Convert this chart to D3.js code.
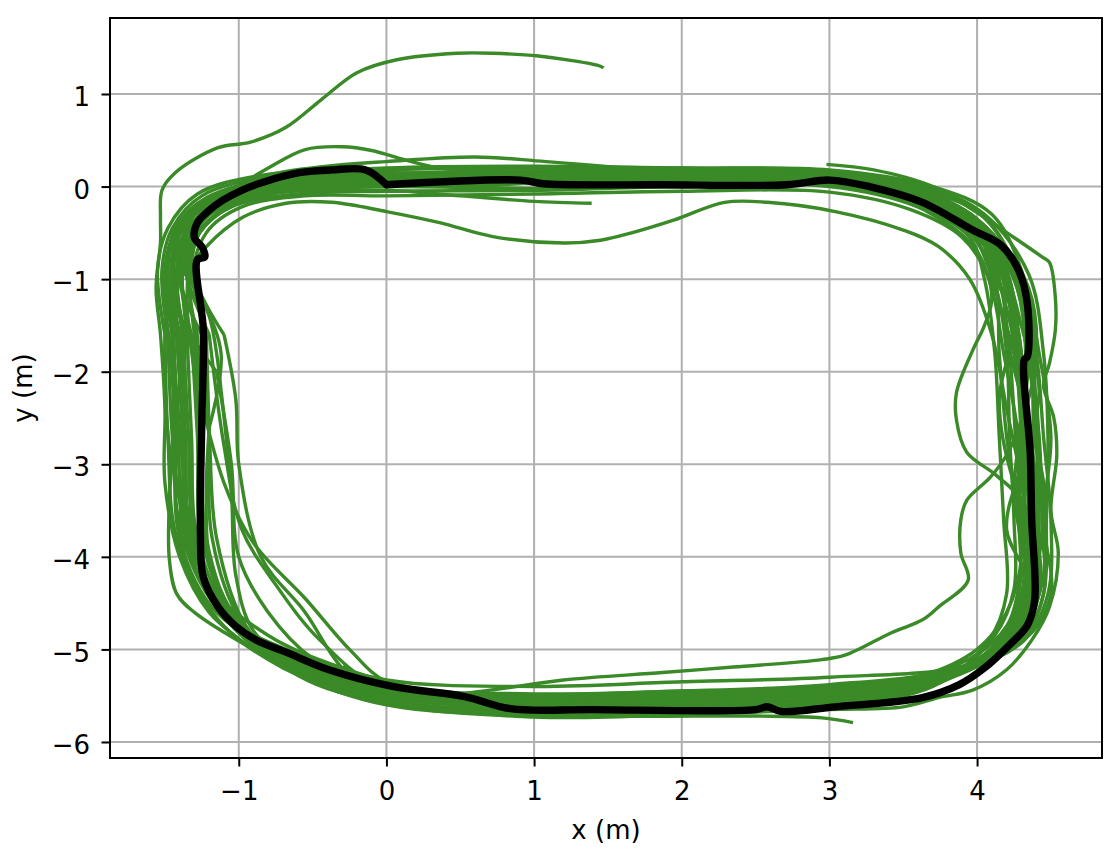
<!DOCTYPE html>
<html>
<head>
<meta charset="utf-8">
<script src="https://cdn.jsdelivr.net/npm/d3@7"></script>
<style>
  html, body { margin: 0; padding: 0; background: #fff; }
  svg { display: block; font-family: "DejaVu Sans", sans-serif; }
</style>
</head>
<body>
<div id="container"></div>
<script>
// axis limits and ticks (metres)
const xDomain = [-1.872, 4.846];
const yDomain = [-6.173, 1.821];
const xTicks  = [-1, 0, 1, 2, 3, 4];
const yTicks  = [-6, -5, -4, -3, -2, -1, 0, 1];

// reference path (black)
const refPath = [
  [0,0.02],[0.91,0.07],[1.06,0.03],[1.85,0.02],[2.71,0.02],[3.0,0.07],[3.27,0.0],
  [3.63,-0.17],[3.97,-0.47],[4.16,-0.63],[4.28,-0.9],[4.34,-1.26],[4.34,-1.84],
  [4.32,-1.87],[4.36,-2.88],[4.37,-3.6],[4.39,-4.47],[4.34,-4.74],[4.22,-4.95],
  [4.05,-5.2],[3.88,-5.38],[3.63,-5.52],[3.04,-5.62],[2.67,-5.67],[2.58,-5.62],
  [2.50,-5.65],[1.40,-5.65],[0.84,-5.64],[0.53,-5.51],[0.04,-5.4],[-0.39,-5.22],
  [-0.68,-5.03],[-0.88,-4.9],[-1.02,-4.75],[-1.14,-4.54],[-1.24,-4.22],[-1.26,-3.71],
  [-1.25,-2.52],[-1.24,-1.55],[-1.28,-0.79],[-1.23,-0.76],[-1.25,-0.65],[-1.30,-0.555],
  [-1.28,-0.39],[-1.21,-0.27],[-1.11,-0.15],[-0.98,-0.04],[-0.83,0.05],[-0.59,0.15],
  [-0.37,0.18],[-0.14,0.18],[0,0.02]
];

// estimated trajectories (green), one array per lap / run
const lap1 = [[-1.35,-1.6],[-1.38,-0.9],[-1.30,-0.45],[-1.12,-0.15],[-0.7,0.02],[0,0.08],[1,0.10],[2,0.10],[3,0.06],[3.6,-0.12],[4.0,-0.42],[4.20,-1.0],[4.30,-1.8],[4.32,-2.7],[4.35,-3.6],[4.33,-4.4],[4.20,-4.9],[3.8,-5.30],[3,-5.50],[2,-5.58],[1,-5.62],[0,-5.50],[-0.6,-5.20],[-1.05,-4.65],[-1.28,-3.8],[-1.32,-2.7],[-1.35,-1.6]];
const lap2 = [[-1.42,-1.6],[-1.45,-0.9],[-1.38,-0.45],[-1.15,-0.15],[-0.7,0.05],[0,0.12],[1,0.14],[2,0.15],[3,0.12],[3.6,-0.05],[4.0,-0.35],[4.30,-1.0],[4.38,-1.8],[4.40,-2.7],[4.42,-3.6],[4.40,-4.4],[4.28,-4.9],[3.8,-5.25],[3,-5.45],[2,-5.52],[1,-5.55],[0,-5.45],[-0.6,-5.15],[-1.10,-4.65],[-1.35,-3.8],[-1.38,-2.7],[-1.42,-1.6]];
const lap3 = [[-1.30,-1.6],[-1.33,-0.9],[-1.25,-0.45],[-1.02,-0.18],[-0.6,-0.02],[0.2,0.02],[1.1,0.05],[2.1,0.06],[3.0,0.02],[3.55,-0.18],[3.95,-0.50],[4.12,-1.05],[4.20,-1.8],[4.22,-2.7],[4.25,-3.6],[4.25,-4.35],[4.12,-4.85],[3.75,-5.35],[3,-5.55],[2,-5.62],[1,-5.66],[0,-5.55],[-0.6,-5.25],[-1.00,-4.7],[-1.22,-3.9],[-1.26,-2.8],[-1.30,-1.6]];
const lap4 = [[-1.45,-1.6],[-1.50,-0.9],[-1.42,-0.45],[-1.20,-0.12],[-0.8,0.08],[0,0.18],[1,0.20],[2,0.20],[3,0.17],[3.65,0.0],[4.05,-0.30],[4.35,-0.95],[4.45,-1.8],[4.48,-2.7],[4.47,-3.6],[4.45,-4.4],[4.30,-4.9],[3.9,-5.2],[3,-5.38],[2,-5.45],[1,-5.48],[0,-5.40],[-0.6,-5.10],[-1.15,-4.6],[-1.40,-3.8],[-1.43,-2.7],[-1.45,-1.6]];
const lap5 = [[-1.25,-1.6],[-1.40,-0.95],[-1.28,-0.5],[-1.05,-0.22],[-0.6,-0.08],[0,-0.05],[1,-0.04],[2,0.00],[3,0.00],[3.6,-0.22],[3.95,-0.55],[4.05,-1.0],[4.12,-1.8],[4.15,-2.7],[4.18,-3.6],[4.20,-4.4],[4.08,-4.9],[3.7,-5.4],[3,-5.60],[2,-5.68],[1,-5.70],[0,-5.58],[-0.6,-5.28],[-0.95,-4.75],[-1.15,-3.8],[-1.20,-2.7],[-1.25,-1.6]];
const lap6 = [[-1.38,-1.6],[-1.42,-0.9],[-1.35,-0.45],[-1.10,-0.15],[-0.7,0.0],[0.1,0.05],[1.1,0.08],[2.0,0.12],[2.9,0.10],[3.6,-0.08],[4.0,-0.40],[4.25,-1.0],[4.33,-1.8],[4.30,-2.7],[4.28,-3.6],[4.36,-4.4],[4.22,-4.9],[3.8,-5.28],[3,-5.47],[2,-5.55],[1,-5.58],[0,-5.48],[-0.6,-5.18],[-1.08,-4.65],[-1.30,-3.8],[-1.34,-2.7],[-1.38,-1.6]];
const lap7 = [[-1.20,-1.6],[-1.36,-0.9],[-1.32,-0.5],[-1.08,-0.2],[-0.65,-0.05],[0,0.00],[1,-0.02],[2,0.02],[3,0.03],[3.6,-0.15],[4.0,-0.48],[4.10,-1.0],[4.25,-1.8],[4.35,-2.7],[4.40,-3.6],[4.38,-4.4],[4.25,-4.9],[3.8,-5.32],[3,-5.52],[2,-5.60],[1,-5.64],[0,-5.45],[-0.45,-4.9],[-0.75,-4.3],[-0.98,-3.7],[-1.10,-2.8],[-1.20,-1.6]];
const lap8 = [[-1.48,-1.6],[-1.52,-0.9],[-1.45,-0.45],[-1.25,-0.1],[-0.8,0.1],[0,0.15],[1,0.12],[2,0.18],[3,0.15],[3.65,-0.02],[4.05,-0.33],[4.28,-0.95],[4.40,-1.8],[4.45,-2.7],[4.50,-3.6],[4.48,-4.4],[4.32,-4.9],[3.9,-5.22],[3,-5.42],[2,-5.50],[1,-5.52],[0,-5.42],[-0.6,-5.12],[-1.12,-4.6],[-1.38,-3.8],[-1.45,-2.7],[-1.48,-1.6]];
const lap9 = [[-1.32,-1.6],[-1.40,-0.9],[-1.33,-0.45],[-1.12,-0.16],[-0.7,0.03],[0,0.10],[1,0.11],[2,0.08],[3,0.04],[3.6,-0.15],[4.0,-0.45],[4.15,-1.0],[4.22,-1.8],[4.26,-2.7],[4.30,-3.6],[4.32,-4.4],[4.18,-4.9],[3.8,-5.30],[3,-5.58],[2,-5.65],[1,-5.70],[0,-5.60],[-0.6,-5.26],[-1.02,-4.7],[-1.25,-3.8],[-1.28,-2.7],[-1.32,-1.6]];
const lap10 = [[-1.40,-1.6],[-1.46,-0.9],[-1.40,-0.45],[-1.18,-0.14],[-0.75,0.06],[0,0.13],[1,0.16],[2,0.13],[3,0.09],[3.6,-0.10],[4.0,-0.38],[4.22,-1.0],[4.28,-1.8],[4.35,-2.7],[4.40,-3.6],[4.42,-4.4],[4.26,-4.9],[3.8,-5.27],[3,-5.48],[2,-5.56],[1,-5.60],[0,-5.48],[-0.6,-5.17],[-1.06,-4.65],[-1.32,-3.8],[-1.36,-2.7],[-1.40,-1.6]];
const lap11 = [[-1.10,-1.6],[-1.30,-0.95],[-1.22,-0.5],[-0.98,-0.22],[-0.55,-0.10],[0,-0.10],[1,-0.08],[2,-0.05],[3,-0.06],[3.55,-0.25],[3.9,-0.55],[4.08,-1.0],[4.18,-1.8],[4.28,-2.7],[4.32,-3.6],[4.30,-4.4],[4.15,-4.9],[3.75,-5.36],[3,-5.60],[2,-5.70],[1,-5.73],[0,-5.55],[-0.3,-5.2],[-0.55,-4.6],[-0.85,-4.0],[-1.0,-3.0],[-1.02,-2.3],[-1.10,-1.6]];
const lap12 = [[-1.50,-1.6],[-1.55,-0.9],[-1.48,-0.45],[-1.28,-0.08],[-0.85,0.12],[0,0.20],[1,0.22],[2,0.20],[3,0.18],[3.7,0.0],[4.1,-0.3],[4.30,-0.9],[4.42,-1.8],[4.50,-2.7],[4.45,-3.6],[4.50,-4.4],[4.35,-4.85],[3.9,-5.18],[3,-5.30],[2,-5.35],[1,-5.40],[0,-5.33],[-0.6,-5.05],[-1.18,-4.55],[-1.42,-3.8],[-1.48,-2.7],[-1.50,-1.6]];
const lap13 = [[-1.28,-1.6],[-1.35,-0.9],[-1.28,-0.45],[-1.06,-0.16],[-0.65,0.02],[0,0.06],[1,0.07],[2,0.09],[3,0.07],[3.6,-0.13],[4.0,-0.44],[4.18,-1.0],[4.26,-1.8],[4.30,-2.7],[4.33,-3.6],[4.35,-4.4],[4.22,-4.9],[3.8,-5.30],[3,-5.53],[2,-5.61],[1,-5.65],[0,-5.55],[-0.6,-5.22],[-1.02,-4.68],[-1.22,-3.8],[-1.25,-2.7],[-1.28,-1.6]];
const lap14 = [[-1.36,-1.6],[-1.44,-0.9],[-1.38,-0.45],[-1.16,-0.15],[-0.72,0.04],[0,0.10],[1,0.12],[2,0.14],[3,0.13],[3.6,-0.06],[4.0,-0.37],[4.25,-1.0],[4.36,-1.8],[4.38,-2.7],[4.36,-3.6],[4.40,-4.4],[4.25,-4.9],[3.8,-5.26],[3,-5.45],[2,-5.53],[1,-5.57],[0,-5.47],[-0.6,-5.16],[-1.08,-4.62],[-1.33,-3.8],[-1.37,-2.7],[-1.36,-1.6]];
const lap15 = [[-1.22,-1.6],[-1.32,-0.9],[-1.26,-0.48],[-1.04,-0.2],[-0.62,-0.03],[0,0.03],[1,0.04],[2,0.05],[3,0.04],[3.6,-0.17],[3.95,-0.50],[4.12,-1.0],[4.15,-1.8],[4.20,-2.7],[4.28,-3.6],[4.28,-4.4],[4.15,-4.9],[3.75,-5.34],[3,-5.56],[2,-5.64],[1,-5.68],[0,-5.57],[-0.6,-5.25],[-0.98,-4.7],[-1.18,-3.8],[-1.20,-2.7],[-1.22,-1.6]];
const lap16 = [[-1.44,-1.6],[-1.48,-0.9],[-1.43,-0.45],[-1.22,-0.12],[-0.78,0.07],[0,0.14],[1,0.17],[2,0.17],[3,0.14],[3.65,-0.04],[4.05,-0.34],[4.28,-1.0],[4.34,-1.8],[4.42,-2.7],[4.44,-3.6],[4.45,-4.4],[4.30,-4.9],[3.85,-5.22],[3,-5.40],[2,-5.48],[1,-5.52],[0,-5.44],[-0.6,-5.12],[-1.12,-4.6],[-1.36,-3.8],[-1.41,-2.7],[-1.44,-1.6]];
const lap17 = [[-1.15,-2.0],[-1.45,-1.2],[-1.40,-0.6],[-1.2,-0.25],[-0.8,0.0],[0,0.05],[1,0.15],[2,0.08],[3,0.10],[3.6,-0.1],[3.95,-0.45],[4.1,-0.95],[4.3,-1.5],[4.42,-2.2],[4.3,-3.0],[4.2,-3.7],[4.35,-4.3],[4.25,-4.8],[3.9,-5.2],[3,-5.45],[2,-5.62],[1,-5.55],[0,-5.5],[-0.5,-5.1],[-0.8,-4.6],[-1.0,-4.0],[-1.05,-3.0],[-1.15,-2.0]];
const lap18 = [[-1.5,-2.2],[-1.48,-1.3],[-1.35,-0.7],[-1.18,-0.35],[-0.9,-0.1],[-0.4,0.05],[0.5,0.0],[1.5,0.1],[2.5,0.15],[3.3,0.05],[3.8,-0.3],[4.15,-0.8],[4.25,-1.5],[4.15,-2.3],[4.25,-3.2],[4.45,-3.9],[4.4,-4.5],[4.2,-4.95],[3.8,-5.3],[3.0,-5.58],[2.0,-5.5],[1.0,-5.58],[0.0,-5.52],[-0.6,-5.25],[-0.95,-4.9],[-1.2,-4.4],[-1.32,-3.6],[-1.45,-3.0],[-1.5,-2.2]];
const lap19 = [[-1.3,-2.0],[-1.35,-1.2],[-1.3,-0.6],[-1.1,-0.25],[-0.7,-0.05],[0,0.08],[1,0.06],[2,0.1],[3,0.08],[3.6,-0.1],[4.0,-0.4],[4.2,-1.0],[4.25,-1.8],[4.35,-2.6],[4.4,-3.4],[4.3,-4.2],[4.2,-4.75],[3.95,-5.1],[3.4,-5.35],[2.5,-5.45],[1.5,-5.5],[0.5,-5.5],[0.0,-5.35],[-0.25,-5.0],[-0.55,-4.45],[-0.9,-3.85],[-1.1,-3.2],[-1.3,-2.0]];
const lap20 = [[-1.45,-2.5],[-1.38,-1.8],[-1.5,-1.1],[-1.45,-0.6],[-1.28,-0.25],[-1.0,0.0],[-0.5,0.1],[0.5,0.12],[1.5,0.08],[2.5,0.1],[3.3,0.1],[3.8,-0.15],[4.1,-0.5],[4.35,-1.1],[4.4,-1.9],[4.3,-2.6],[4.25,-3.3],[4.3,-4.0],[4.2,-4.6],[4.0,-5.0],[3.6,-5.3],[3.0,-5.43],[2.0,-5.45],[1.0,-5.5],[0.3,-5.45],[-0.3,-5.2],[-0.8,-4.85],[-1.2,-4.3],[-1.4,-3.4],[-1.45,-2.5]];
const lap21 = [[-1.12,-2.2],[-1.2,-1.4],[-1.38,-0.8],[-1.3,-0.45],[-1.1,-0.18],[-0.7,0.0],[0,0.04],[1,0.09],[2,0.11],[3,0.05],[3.6,-0.14],[3.98,-0.47],[4.15,-1.05],[4.28,-1.9],[4.36,-2.8],[4.3,-3.7],[4.38,-4.4],[4.22,-4.88],[3.82,-5.28],[3,-5.5],[2,-5.6],[1,-5.6],[0,-5.5],[-0.6,-5.18],[-0.9,-4.8],[-1.02,-4.2],[-1.05,-3.3],[-1.12,-2.2]];
const lap22 = [[-1.2,-2.6],[-1.12,-1.8],[-1.28,-1.1],[-1.42,-0.6],[-1.25,-0.3],[-0.95,-0.08],[-0.4,0.06],[0.6,0.1],[1.6,0.12],[2.6,0.1],[3.4,0.0],[3.85,-0.32],[4.15,-0.85],[4.2,-1.6],[4.32,-2.4],[4.45,-3.2],[4.42,-4.0],[4.32,-4.6],[4.1,-5.0],[3.7,-5.32],[3,-5.5],[2,-5.57],[1,-5.6],[0,-5.5],[-0.6,-5.2],[-1.05,-4.7],[-1.2,-4.0],[-1.22,-3.3],[-1.2,-2.6]];

// runs with distinctive features
const runFinal = [[-0.9,-5.0],[-1.2,-4.6],[-1.40,-4.0],[-1.50,-3.2],[-1.50,-2.4],[-1.53,-1.6],[-1.56,-1.1],[-1.53,-0.6],[-1.53,-0.33],[-1.52,-0.04],[-1.43,0.15],[-1.14,0.42],[-0.92,0.48],[-0.68,0.64],[-0.44,0.94],[-0.2,1.23],[0.07,1.37],[0.48,1.44],[0.72,1.44],[1.03,1.41],[1.45,1.30],[1.47,1.28]];
const runShortTop = [[-1.35,-2.5],[-1.38,-1.6],[-1.42,-0.9],[-1.35,-0.5],[-1.15,-0.22],[-0.7,-0.06],[0,-0.04],[0.5,-0.10],[1.0,-0.16],[1.39,-0.18]];
const runDip = [[-1.45,-1.8],[-1.42,-1.1],[-1.22,-0.65],[-0.97,-0.33],[-0.68,-0.18],[-0.37,-0.17],[0,-0.27],[0.36,-0.39],[0.72,-0.54],[1.2,-0.61],[1.45,-0.58],[1.66,-0.5],[1.95,-0.36],[2.29,-0.17],[2.58,-0.17],[3.04,-0.27],[3.5,-0.47],[3.74,-0.65],[3.95,-1.0],[4.1,-1.6],[4.2,-2.4],[4.3,-3.2],[4.35,-4.0],[4.3,-4.6],[4.1,-5.0],[3.7,-5.35],[3,-5.55],[2,-5.6],[1,-5.62],[0,-5.52],[-0.6,-5.22],[-1.05,-4.7],[-1.3,-3.9],[-1.38,-3.0],[-1.42,-2.2]];
const runBump = [[-1.4,-2.0],[-1.42,-1.2],[-1.35,-0.7],[-1.25,-0.35],[-1.05,-0.05],[-0.8,0.2],[-0.55,0.4],[-0.3,0.43],[-0.1,0.39],[0.12,0.29],[0.36,0.2],[0.8,0.17],[1.5,0.17],[2.2,0.16],[3,0.13],[3.6,-0.05],[4.0,-0.35],[4.25,-0.95],[4.35,-1.8],[4.3,-2.7],[4.38,-3.6],[4.4,-4.4],[4.25,-4.85],[3.85,-5.25],[3,-5.47],[2,-5.54],[1,-5.58],[0,-5.5]];
const runHigh = [[-1.3,-0.5],[-1.1,-0.1],[-0.8,0.12],[-0.4,0.22],[0,0.27],[0.6,0.32],[1.08,0.27],[1.85,0.18],[2.6,0.16],[3.1,0.12],[3.6,-0.06],[4.0,-0.36],[4.2,-0.9],[4.25,-1.6],[4.3,-2.5],[4.35,-3.3],[4.38,-4.1],[4.3,-4.7],[4.05,-5.1],[3.6,-5.4],[3,-5.5]];
const runOuter = [[2.98,0.24],[3.3,0.18],[3.7,0.0],[4.0,-0.28],[4.25,-0.55],[4.44,-0.76],[4.49,-0.82],[4.53,-1.2],[4.53,-1.55],[4.49,-1.91],[4.45,-2.15],[4.52,-2.5],[4.54,-2.9],[4.50,-3.5],[4.55,-3.96],[4.49,-4.54],[4.37,-4.9],[4.2,-5.22],[3.97,-5.44],[3.74,-5.52],[3.5,-5.62],[3.0,-5.65],[2.0,-5.7],[1.0,-5.72],[0.2,-5.62],[-0.4,-5.4],[-0.9,-5.0],[-1.3,-4.6],[-1.42,-4.4],[-1.47,-4.03],[-1.47,-3.4],[-1.44,-2.6],[-1.46,-1.8],[-1.5,-1.2],[-1.45,-0.6],[-1.3,-0.3],[-1.0,-0.05],[-0.5,0.08],[0.3,0.12],[1.0,0.14]];
const runHook = [[-0.5,0.02],[0.5,0.05],[1.5,0.07],[2.5,0.05],[3.3,-0.05],[3.75,-0.35],[4.0,-0.7],[4.1,-1.2],[4.05,-1.5],[3.97,-1.77],[3.86,-2.23],[3.86,-2.52],[3.93,-2.87],[4.13,-3.12],[4.3,-3.4],[4.35,-4.0],[4.3,-4.5],[4.15,-4.9],[3.8,-5.3],[3,-5.5],[2,-5.56],[1.2,-5.6]];
const runInner = [[3.2,0.0],[3.6,-0.2],[4.0,-0.55],[4.2,-1.1],[4.3,-1.8],[4.3,-2.5],[4.2,-2.9],[4.09,-3.14],[3.93,-3.39],[3.89,-3.6],[3.89,-3.96],[3.94,-4.25],[3.74,-4.54],[3.63,-4.68],[3.42,-4.82],[3.11,-5.06],[2.95,-5.11],[2.35,-5.19],[1.87,-5.25],[1.2,-5.33],[0.7,-5.44],[0.3,-5.5],[-0.1,-5.35],[-0.29,-5.17]];
const runLow = [[3.16,-5.79],[2.95,-5.74],[2.5,-5.72],[1.5,-5.72],[0.5,-5.66],[-0.2,-5.5],[-0.7,-5.2],[-1.1,-4.75],[-1.35,-4.1],[-1.4,-3.2],[-1.42,-2.3],[-1.45,-1.4],[-1.42,-0.7],[-1.25,-0.35],[-1.0,-0.1],[-0.5,0.05],[0.5,0.12],[1.5,0.14],[2.5,0.12],[3.3,0.02],[3.8,-0.3],[4.15,-0.8],[4.3,-1.5],[4.4,-2.3],[4.42,-3.2],[4.4,-4.0]];

const greenRuns = [lap1, lap2, lap3, lap4, lap5, lap6, lap7, lap8, lap9, lap10,
                   lap11, lap12, lap13, lap14, lap15, lap16, lap17, lap18, lap19, lap20, lap21, lap22,
                   runFinal, runShortTop, runDip, runBump, runHigh, runOuter, runHook, runInner, runLow];

const W = 1120, H = 848;
const margin = { top: 18, right: 18, bottom: 90, left: 110 };
const fontSize = 26;

const svg = d3.select("#container")
  .append("svg")
    .attr("width", W)
    .attr("height", H);

const x = d3.scaleLinear().domain(xDomain).range([margin.left, W - margin.right]);
const y = d3.scaleLinear().domain(yDomain).range([H - margin.bottom, margin.top]);

const fmt = d => d < 0 ? "\u2212" + Math.abs(d) : String(d);

// Grid
const grid = svg.append("g").attr("stroke", "#b0b0b0").attr("stroke-width", 2);
grid.selectAll("line.gx").data(xTicks).join("line")
  .attr("x1", d => x(d)).attr("x2", d => x(d))
  .attr("y1", margin.top).attr("y2", H - margin.bottom);
grid.selectAll("line.gy").data(yTicks).join("line")
  .attr("y1", d => y(d)).attr("y2", d => y(d))
  .attr("x1", margin.left).attr("x2", W - margin.right);

// Trajectories
svg.append("defs").append("clipPath").attr("id", "clip")
  .append("rect")
    .attr("x", margin.left).attr("y", margin.top)
    .attr("width", W - margin.left - margin.right)
    .attr("height", H - margin.top - margin.bottom);

const plot = svg.append("g").attr("clip-path", "url(#clip)");

const line = d3.line()
  .x(d => x(d[0]))
  .y(d => y(d[1]))
  .curve(d3.curveCatmullRom.alpha(0.5));

plot.selectAll("path.run")
  .data(greenRuns)
  .join("path")
    .attr("class", "run")
    .attr("d", line)
    .attr("fill", "none")
    .attr("stroke", "#3a8a28")
    .attr("stroke-width", 3.4)
    .attr("stroke-linejoin", "round");

plot.append("path")
  .datum(refPath)
  .attr("d", line)
  .attr("fill", "none")
  .attr("stroke", "#000")
  .attr("stroke-width", 7.4)
  .attr("stroke-linejoin", "round")
  .attr("stroke-linecap", "round");

// Axes
const xAxis = svg.append("g")
  .attr("transform", `translate(0,${H - margin.bottom})`)
  .call(d3.axisBottom(x).tickValues(xTicks).tickFormat(fmt).tickSize(8.5).tickSizeOuter(0));
const yAxis = svg.append("g")
  .attr("transform", `translate(${margin.left},0)`)
  .call(d3.axisLeft(y).tickValues(yTicks).tickFormat(fmt).tickSize(8.5).tickSizeOuter(0));

[xAxis, yAxis].forEach(g => {
  g.select(".domain").remove();
  g.selectAll(".tick line").attr("stroke", "#000").attr("stroke-width", 2);
  g.selectAll(".tick text")
    .attr("fill", "#000")
    .attr("font-family", "DejaVu Sans")
    .attr("font-size", fontSize);
});
xAxis.selectAll(".tick text").attr("y", 41.5).attr("dy", null);
yAxis.selectAll(".tick text").attr("x", -20).attr("dy", "0.45em");

// Frame
svg.append("rect")
  .attr("x", margin.left).attr("y", margin.top)
  .attr("width", W - margin.left - margin.right)
  .attr("height", H - margin.top - margin.bottom)
  .attr("fill", "none")
  .attr("stroke", "#000")
  .attr("stroke-width", 2);

// Labels
svg.append("text")
  .attr("x", (margin.left + W - margin.right) / 2)
  .attr("y", 838.5)
  .attr("text-anchor", "middle")
  .attr("font-size", fontSize)
  .text("x (m)");

svg.append("text")
  .attr("transform", `translate(32,${(margin.top + H - margin.bottom) / 2}) rotate(-90)`)
  .attr("text-anchor", "middle")
  .attr("font-size", fontSize)
  .text("y (m)");
</script>
</body>
</html>
